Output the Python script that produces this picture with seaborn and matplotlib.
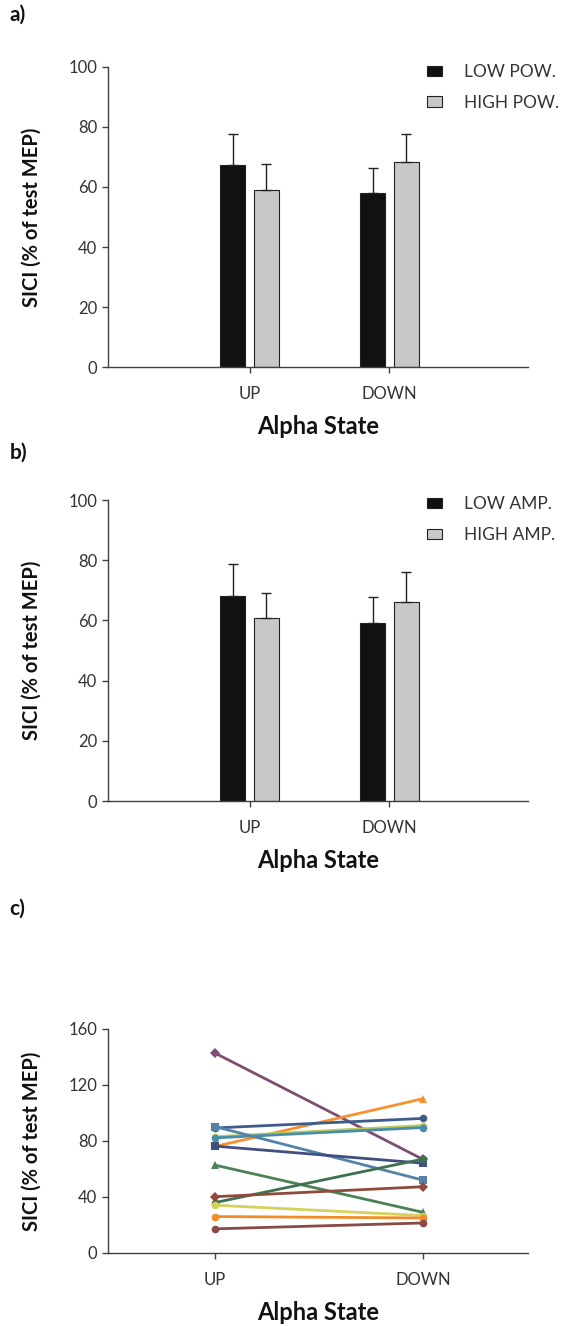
"""
SICI by alpha state: bar charts (power / amplitude split) and single-subject lines.
"""

import matplotlib
matplotlib.use("Agg")
import matplotlib.pyplot as plt
import numpy as np
import pandas as pd
import seaborn as sns

# ── Data ──────────────────────────────────────────────────────────────
states = ["UP", "DOWN"]

pow_groups = ["LOW POW.", "HIGH POW."]
pow_mean = {"LOW POW.": [67.3, 58.1], "HIGH POW.": [59.0, 68.4]}
pow_sem = {"LOW POW.": [10.2, 8.2], "HIGH POW.": [8.5, 9.4]}

amp_groups = ["LOW AMP.", "HIGH AMP."]
amp_mean = {"LOW AMP.": [68.2, 59.2], "HIGH AMP.": [60.8, 66.0]}
amp_sem = {"LOW AMP.": [10.7, 8.6], "HIGH AMP.": [8.3, 10.2]}

subj_up = [142.7, 76.1, 89.3, 83.0, 82.2, 90.2, 76.3, 62.7, 36.0, 40.2, 34.1, 26.0, 17.2]
subj_down = [66.8, 110.2, 96.1, 91.0, 89.6, 52.0, 64.1, 29.0, 67.1, 47.3, 26.7, 25.0, 21.4]
subj_colors = ["#7E4E72", "#F5922F", "#3D5C8C", "#BCCB5A", "#4A8DAA", "#5383A8",
               "#404F80", "#4B8255", "#3D7250", "#8E4B3C", "#D2D25C", "#F28C28",
               "#8A4A45"]
subj_markers = ["D", "^", "o", "o", "o", "s", "s", "^", "o", "D", "o", "o", "o"]

AX_COLOR = "#404040"
TXT_COLOR = "#333333"

sns.set_style("ticks")
plt.rcParams["font.family"] = ["Lato", "DejaVu Sans"]


def style_axes(ax, ylim, yticks, xlim):
    ax.set_xlim(*xlim)
    ax.set_ylim(*ylim)
    ax.set_yticks(yticks)
    ax.set_xticks([0, 1])
    ax.set_xticklabels(states)
    sns.despine(ax=ax)
    for side in ["left", "bottom"]:
        ax.spines[side].set_color(AX_COLOR)
        ax.spines[side].set_linewidth(1.0)
    ax.tick_params(axis="y", colors=AX_COLOR, labelcolor=TXT_COLOR,
                   labelsize=12, length=4, width=1, pad=4)
    ax.tick_params(axis="x", colors=AX_COLOR, labelcolor=TXT_COLOR,
                   labelsize=12, length=4, width=1, pad=10)
    ax.set_ylabel("SICI (% of test MEP)", fontsize=14.5, fontweight="bold",
                  color="#111111", labelpad=19)
    ax.set_xlabel("Alpha State", fontsize=17, fontweight="bold",
                  color="#111111", labelpad=9)


def bar_panel(ax, groups, means, sems, legend_y):
    df = pd.DataFrame({
        "state": states * 2,
        "group": [g for g in groups for _ in states],
        "sici": means[groups[0]] + means[groups[1]],
    })
    sns.barplot(data=df, x="state", y="sici", hue="group", order=states,
                hue_order=groups, palette=["#111111", "#C8C8C8"],
                errorbar=None, width=0.477, gap=0.245, dodge=True,
                edgecolor="#222222", linewidth=0.8, ax=ax)
    # error bars (upper half only) centred on the drawn bars
    for container, g in zip(ax.containers, groups):
        xs = [p.get_x() + p.get_width() / 2 for p in container.patches]
        ax.errorbar(xs, means[g], yerr=[np.zeros(len(xs)), sems[g]],
                    fmt="none", ecolor="#222222", elinewidth=1.0,
                    capsize=3.5, capthick=1.0, zorder=1)
    handles, labels = ax.get_legend_handles_labels()
    ax.legend(handles, labels, loc="upper left", frameon=False,
              bbox_to_anchor=(0.70, legend_y), bbox_transform=ax.figure.transFigure,
              handlelength=0.85, handleheight=0.55, handletextpad=1.25,
              labelspacing=0.85, fontsize=12.5, labelcolor=TXT_COLOR)
    style_axes(ax, (0, 100), [0, 20, 40, 60, 80, 100], (-1.01, 1.99))


fig = plt.figure(figsize=(5.88, 13.26), dpi=100)

ax_a = fig.add_axes([0.184, 0.7232, 0.714, 0.2263])
ax_b = fig.add_axes([0.184, 0.3959, 0.714, 0.2270])
ax_c = fig.add_axes([0.184, 0.0551, 0.714, 0.1689])

bar_panel(ax_a, pow_groups, pow_mean, pow_sem, 0.9635)
bar_panel(ax_b, amp_groups, amp_mean, amp_sem, 0.6375)

# ── Single subjects ───────────────────────────────────────────────────
n_subj = len(subj_up)
df_c = pd.DataFrame({
    "subject": list(range(n_subj)) * 2,
    "x": [0] * n_subj + [1] * n_subj,
    "sici": subj_up + subj_down,
})
sns.lineplot(data=df_c, x="x", y="sici", hue="subject", style="subject",
             palette=subj_colors, markers=subj_markers, dashes=False,
             linewidth=2.0, markersize=5.5, markeredgewidth=0, legend=False,
             ax=ax_c)
style_axes(ax_c, (0, 160), [0, 40, 80, 120, 160], (-0.515, 1.505))

for label, y in [("a)", 0.989), ("b)", 0.659), ("c)", 0.315)]:
    fig.text(0.016, y, label, fontsize=15, fontweight="bold", color="#111111",
             ha="left", va="center")

fig.savefig("out.png", dpi=100, facecolor="white")
